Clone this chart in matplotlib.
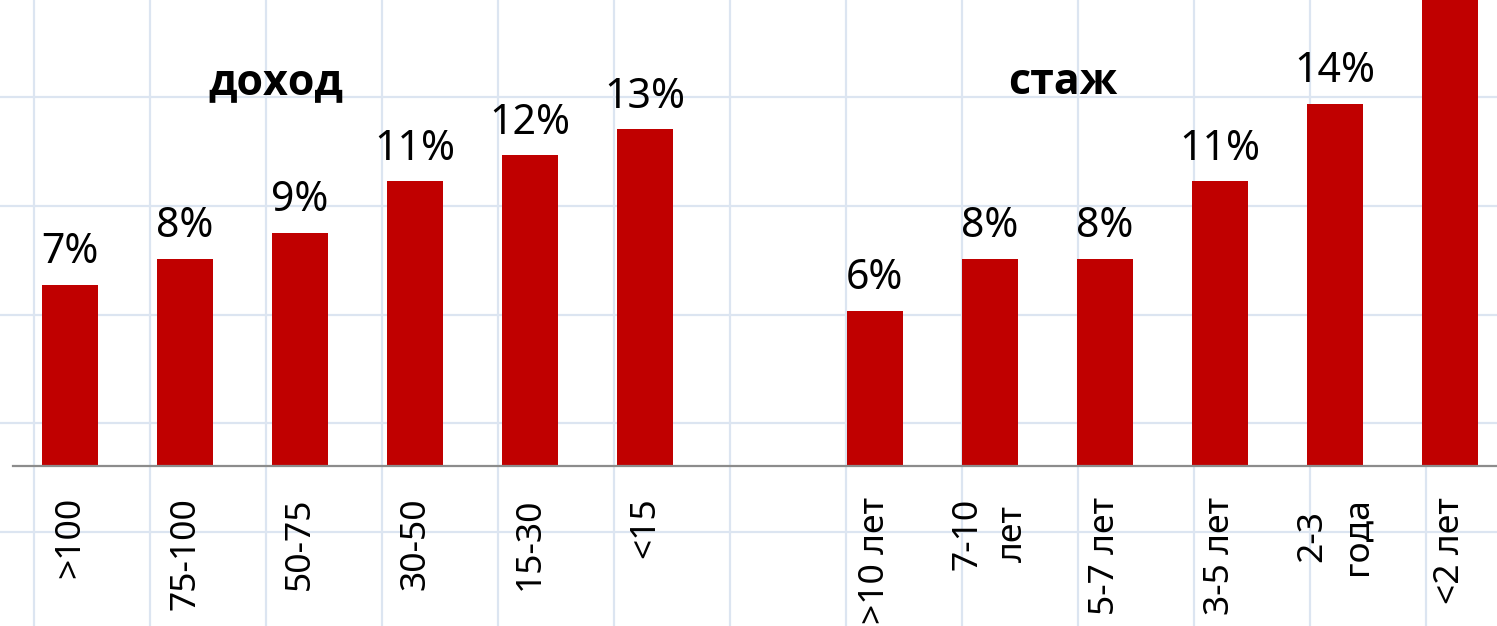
import numpy as np
import matplotlib
matplotlib.use("Agg")
import matplotlib.pyplot as plt

plt.rcParams["font.family"] = ["Noto Sans", "DejaVu Sans"]

# data
income_labels = [">100", "75-100", "50-75", "30-50", "15-30", "<15"]
income_values = [7, 8, 9, 11, 12, 13]
tenure_labels = [">10 лет", "7-10\nлет", "5-7 лет", "3-5 лет", "2-3\nгода", "<2 лет"]
tenure_values = [6, 8, 8, 11, 14, 19]
group_titles = ["доход", "стаж"]

BAR_COLOR = "#C00000"
GRID_COLOR = "#DCE5F1"

W, H = 1497, 626
fig = plt.figure(figsize=(W / 100, H / 100), dpi=100)
fig.patch.set_facecolor("white")

# graph-paper background in pixel coordinates
bg = fig.add_axes([0, 0, 1, 1], zorder=0)
bg.set_xlim(0, W)
bg.set_ylim(H, 0)
bg.axis("off")
for k in range(13):
    bg.axvline(34 + 116.0 * k, color=GRID_COLOR, lw=1.6)
for k in range(5):
    bg.axhline(97 + 108.75 * k, color=GRID_COLOR, lw=1.6)

base = (H - 466) / H
ax = fig.add_axes([0, base, 1, 1 - base], zorder=1)
ax.patch.set_alpha(0)

gap = 1
x_income = np.arange(len(income_values))
x_tenure = np.arange(len(tenure_values)) + len(income_values) + gap
xs = np.concatenate([x_income, x_tenure])
vals = income_values + tenure_values
labels = income_labels + tenure_labels

ax.bar(xs, vals, width=0.487, color=BAR_COLOR, zorder=2)
for x, v in zip(xs, vals):
    ax.annotate(f"{v}%", (x, v), xytext=(0, 15.5), textcoords="offset points",
                ha="center", va="baseline", fontsize=29.5, color="black")

ax.set_xlim(-0.609, 12.41)
ax.set_ylim(0, 18.0)
ax.plot([-0.5, 12.6], [0, 0], color="#8C8C8C", lw=1.6, zorder=3, clip_on=False)

ax.set_xticks(xs)
ax.set_xticklabels(labels, rotation=90, fontsize=25.5, multialignment="center",
                   linespacing=1.45)
ax.tick_params(axis="x", length=0, pad=22.5)
ax.tick_params(axis="y", left=False, labelleft=False)
for s in ax.spines.values():
    s.set_visible(False)

# group titles
title_font = ["Open Sans", "Liberation Sans", "DejaVu Sans"]
bg.text(276, 94, group_titles[0], ha="center", va="baseline", fontsize=31,
        fontweight="bold", family=title_font, color="black")
bg.text(1063, 94, group_titles[1], ha="center", va="baseline", fontsize=31,
        fontweight="bold", family=title_font, color="black")

fig.savefig("out.png", dpi=100)
